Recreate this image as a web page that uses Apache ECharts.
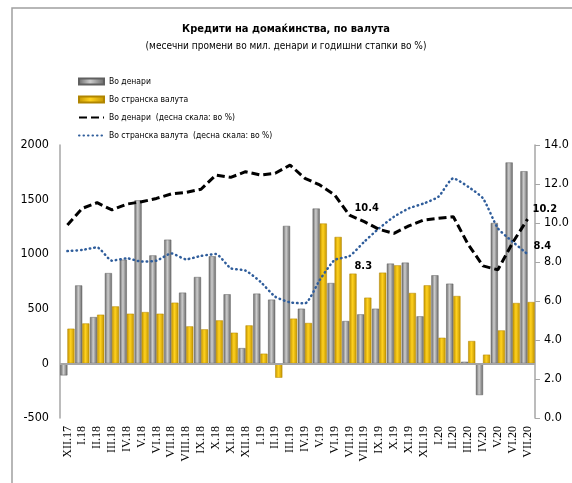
<!DOCTYPE html>
<html>
<head>
<meta charset="utf-8">
<script src="https://cdn.jsdelivr.net/npm/echarts@6/dist/echarts.min.js"></script>
<style>
  html, body { margin: 0; padding: 0; background: #fff; }
  #chart { width: 572px; height: 483px; }
</style>
</head>
<body>
<div id="chart"></div>
<script>
    var months = ['XII.17', 'I.18', 'II.18', 'III.18', 'IV.18', 'V.18', 'VI.18', 'VII.18', 'VIII.18', 'IX.18',
        'X.18', 'XI.18', 'XII.18', 'I.19', 'II.19', 'III.19', 'IV.19', 'V.19', 'VI.19', 'VII.19', 'VIII.19',
        'IX.19', 'X.19', 'XI.19', 'XII.19', 'I.20', 'II.20', 'III.20', 'IV.20', 'V.20', 'VI.20', 'VII.20'];

    // monthly change, mill. denars
    var denarChange = [-110, 714, 424, 827, 950, 1493, 989, 1133, 648, 791, 981, 633, 140, 639, 584, 1259,
        501, 1418, 736, 388, 449, 501, 914, 923, 431, 807, 730, 15, -290, 1286, 1840, 1760];
    var foreignChange = [318, 366, 446, 522, 455, 470, 455, 556, 339, 312, 394, 281, 348, 89, -131, 410,
        370, 1281, 1158, 822, 602, 831, 898, 645, 715, 235, 617, 205, 80, 302, 553, 562];

    // annual growth rates, %
    var denarRate = [9.9, 10.75, 11.04, 10.67, 10.97, 11.09, 11.26, 11.49, 11.57, 11.73, 12.46, 12.34, 12.63,
        12.46, 12.55, 12.97, 12.29, 11.95, 11.44, 10.4, 10.07, 9.67, 9.47, 9.85, 10.15, 10.24, 10.32, 8.9,
        7.8, 7.6, 9.0, 10.2];
    var foreignRate = [8.56, 8.62, 8.75, 8.07, 8.19, 8.02, 8.07, 8.44, 8.14, 8.31, 8.41, 7.68, 7.56, 6.99,
        6.22, 5.93, 5.88, 7.08, 8.1, 8.3, 9.04, 9.73, 10.32, 10.75, 11.0, 11.35, 12.29, 11.86, 11.26, 9.73,
        9.04, 8.4];

    var leftTicks = { min: -500, max: 2000, interval: 500 };
    var rightTicks = { min: 0, max: 14, interval: 2 };

    var cond = "'DejaVu Sans Condensed', 'DejaVu Sans', sans-serif";

    function barGradient(edge, mid) {
        return new echarts.graphic.LinearGradient(0, 0, 1, 0, [
            { offset: 0, color: edge },
            { offset: 0.45, color: mid },
            { offset: 1, color: edge }
        ]);
    }

    // only the labelled points get a label
    function withLabels(values, labelled) {
        return values.map(function (v, i) {
            if (labelled[i]) {
                return {
                    value: v,
                    label: {
                        show: true,
                        position: 'right',
                        offset: labelled[i],
                        formatter: function (p) { return p.value.toFixed(1); },
                        fontFamily: cond,
                        fontWeight: 'bold',
                        fontSize: 11,
                        color: '#000'
                    }
                };
            }
            return v;
        });
    }

    var chart = echarts.init(document.getElementById('chart'));

    var names = ['Во денари', 'Во странска валута', 'Во денари  (десна скала: во %)',
        'Во странска валута  (десна скала: во %)'];

    var option = {
        animation: false,
        title: {
            text: 'Кредити на домаќинства, по валута',
            subtext: '(месечни промени во мил. денари и годишни стапки во %)',
            left: 'center',
            top: 19,
            itemGap: 6,
            textStyle: { fontFamily: cond, fontSize: 11, fontWeight: 'bold', color: '#000' },
            subtextStyle: { fontFamily: cond, fontSize: 10, color: '#000' }
        },
        graphic: [{
            type: 'rect',
            shape: { x: 12, y: 8, width: 620, height: 600 },
            style: { fill: 'none', stroke: '#a0a0a0', lineWidth: 1.5 },
            silent: true
        }],
        legend: {
            orient: 'vertical',
            left: 73,
            top: 72,
            itemGap: 9,
            itemWidth: 25,
            itemHeight: 6,
            textStyle: { fontFamily: cond, fontSize: 8.5, color: '#000' },
            data: [
                { name: names[0], icon: 'rect' },
                { name: names[1], icon: 'rect' },
                { name: names[2], itemStyle: { opacity: 0 } },
                { name: names[3], itemStyle: { opacity: 0 } }
            ]
        },
        grid: {
            left: 60,
            right: 35,
            top: 145,
            bottom: 65
        },
        xAxis: {
            type: 'category',
            data: months,
            axisLine: { show: false },
            axisTick: { show: false },
            axisLabel: {
                interval: 0,
                rotate: 90,
                margin: 8,
                fontFamily: "'Liberation Serif', serif",
                fontSize: 12,
                color: '#000'
            }
        },
        yAxis: [{
            type: 'value',
            min: leftTicks.min,
            max: leftTicks.max,
            interval: leftTicks.interval,
            splitLine: { show: false },
            axisLine: { show: true, lineStyle: { color: '#a6a6a6', width: 1.5 } },
            axisTick: { show: false },
            axisLabel: {
                fontFamily: cond, fontSize: 12.5, color: '#000', margin: 11,
                formatter: function (v) { return String(v); }
            }
        }, {
            type: 'value',
            min: rightTicks.min,
            max: rightTicks.max,
            interval: rightTicks.interval,
            splitLine: { show: false },
            axisLine: { show: true, lineStyle: { color: '#a6a6a6', width: 1.5 } },
            axisTick: { show: true, length: 5, lineStyle: { color: '#a6a6a6' } },
            axisLabel: {
                fontFamily: cond, fontSize: 12.5, color: '#000', margin: 9,
                formatter: function (v) { return v.toFixed(1); }
            }
        }],
        series: [
            {
                name: names[0],
                type: 'bar',
                data: denarChange,
                barGap: '0%',
                barCategoryGap: '4%',
                itemStyle: { color: barGradient('#666666', '#cdcdcd'), borderColor: '#606060', borderWidth: 0.5 },
                markLine: {
                    silent: true,
                    symbol: 'none',
                    label: { show: false },
                    lineStyle: { color: '#a6a6a6', type: 'solid', width: 2 },
                    data: [{ yAxis: 0 }]
                }
            },
            {
                name: names[1],
                type: 'bar',
                data: foreignChange,
                itemStyle: { color: barGradient('#c29300', '#ffd21f'), borderColor: '#b08500', borderWidth: 0.5 }
            },
            {
                name: names[2],
                type: 'line',
                yAxisIndex: 1,
                data: withLabels(denarRate, { 19: [0, -7], 31: [0, -10] }),
                smooth: false,
                symbol: 'circle',
                symbolSize: 0.1,
                z: 5,
                itemStyle: { color: '#000' },
                lineStyle: { color: '#000', width: 3, type: [8, 4] }
            },
            {
                name: names[3],
                type: 'line',
                yAxisIndex: 1,
                data: withLabels(foreignRate, { 19: [0, 10], 31: [1, -8] }),
                smooth: 0.2,
                symbol: 'circle',
                symbolSize: 0.1,
                z: 4,
                itemStyle: { color: '#2f5d9b' },
                lineStyle: { color: '#2f5d9b', width: 2.5, type: [0.5, 4], cap: 'round' }
            }
        ]
    };

    option && chart.setOption(option);
</script>
</body>
</html>
